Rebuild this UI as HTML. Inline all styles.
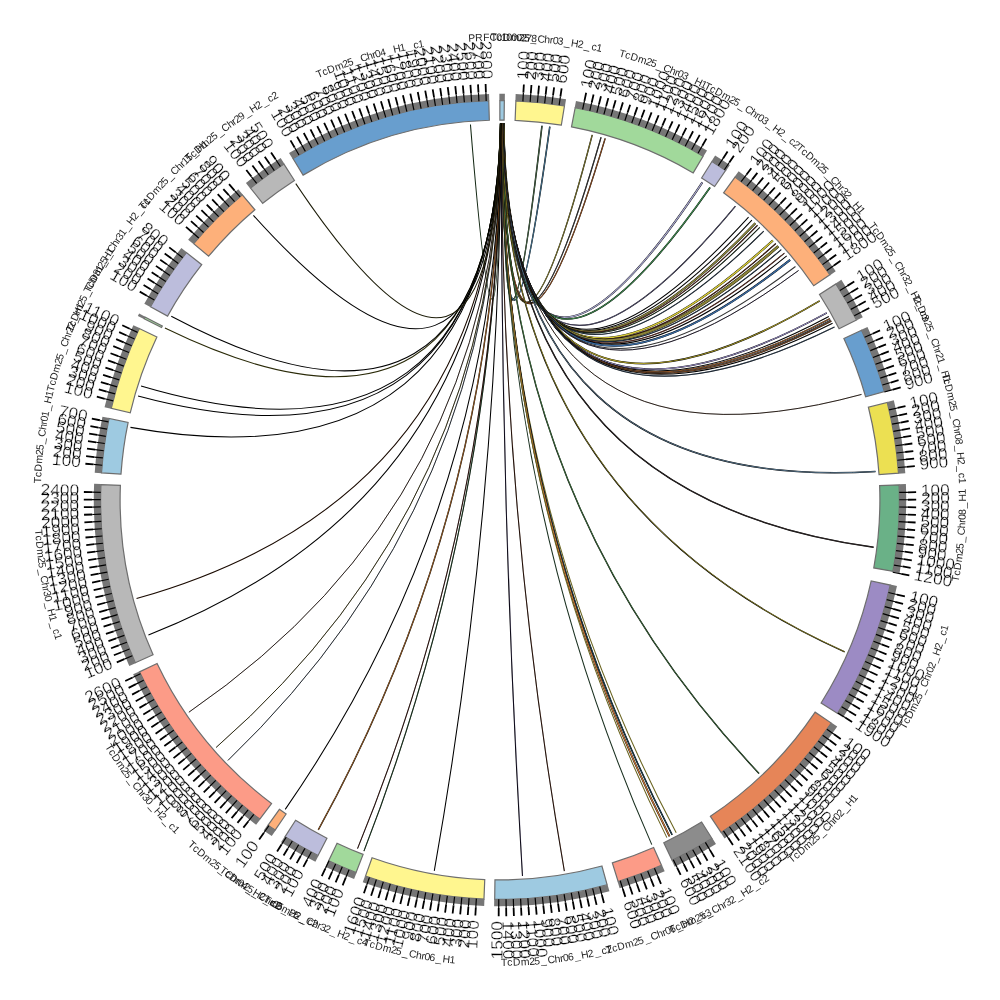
<!DOCTYPE html>
<html lang="en">
<head>
<meta charset="utf-8">
<title>Circos plot</title>
<style>html,body{margin:0;padding:0;background:#fff;overflow:hidden}svg{display:block}.lb text{mix-blend-mode:multiply}</style>
</head>
<body>
<svg width="1000" height="1000" viewBox="0 0 1000 1000">
<rect width="1000" height="1000" fill="#fff"/>
<g fill="none">
<path d="M500.26 123.4Q499.03 475.09 470.45 124.56" stroke="#142814" stroke-width="1.05"/>
<path d="M504.08 123.42Q501.52 475.16 541.98 125.75" stroke="#000" stroke-width="1.55"/>
<path d="M504.08 123.42Q501.52 475.16 541.98 125.75" stroke="#4a6b4a" stroke-width="0.9"/>
<path d="M504.01 123.42Q501.78 475.23 549.81 126.71" stroke="#000" stroke-width="1.55"/>
<path d="M504.01 123.42Q501.78 475.23 549.81 126.71" stroke="#4a7a9a" stroke-width="0.9"/>
<path d="M503.95 123.42Q503.14 475.81 592.26 134.87" stroke="#000" stroke-width="1.4"/>
<path d="M503.95 123.42Q503.14 475.81 592.26 134.87" stroke="#9a9238" stroke-width="0.75"/>
<path d="M503.88 123.42Q503.41 475.98 601.09 137.22" stroke="#000" stroke-width="1.25"/>
<path d="M503.88 123.42Q503.41 475.98 601.09 137.22" stroke="#555555" stroke-width="0.6"/>
<path d="M503.82 123.42Q503.53 476.06 605.19 138.39" stroke="#000" stroke-width="1.4"/>
<path d="M503.82 123.42Q503.53 476.06 605.19 138.39" stroke="#b0602a" stroke-width="0.75"/>
<path d="M503.76 123.42Q506.2 479.12 702.35 182.38" stroke="#000" stroke-width="1.85"/>
<path d="M503.76 123.42Q506.2 479.12 702.35 182.38" stroke="#a9a8d0" stroke-width="1.2"/>
<path d="M503.69 123.42Q506.37 479.45 710.05 187.42" stroke="#000" stroke-width="1.7"/>
<path d="M503.69 123.42Q506.37 479.45 710.05 187.42" stroke="#3f8a4f" stroke-width="1.05"/>
<path d="M503.63 123.42Q506.89 480.68 735.47 206.09" stroke="#000" stroke-width="1.25"/>
<path d="M503.63 123.42Q506.89 480.68 735.47 206.09" stroke="#7a76a8" stroke-width="0.6"/>
<path d="M503.57 123.42Q507.12 481.38 748.56 217.07" stroke="#000" stroke-width="1.05"/>
<path d="M503.5 123.42Q507.17 481.56 751.9 220.04" stroke="#000" stroke-width="1.05"/>
<path d="M503.44 123.42Q507.22 481.76 755.3 223.14" stroke="#000" stroke-width="2.15"/>
<path d="M503.44 123.42Q507.22 481.76 755.3 223.14" stroke="#8a8440" stroke-width="1.5"/>
<path d="M503.38 123.42Q507.25 481.89 757.56 225.25" stroke="#000" stroke-width="1.1"/>
<path d="M503.38 123.42Q507.25 481.89 757.56 225.25" stroke="#9a4030" stroke-width="0.45"/>
<path d="M503.31 123.41Q507.29 482.02 759.81 227.37" stroke="#000" stroke-width="1.02"/>
<path d="M503.31 123.41Q507.29 482.02 759.81 227.37" stroke="#2d5a2d" stroke-width="0.38"/>
<path d="M503.25 123.41Q507.34 482.26 763.77 231.21" stroke="#000" stroke-width="1.1"/>
<path d="M503.25 123.41Q507.34 482.26 763.77 231.21" stroke="#4a6a8a" stroke-width="0.45"/>
<path d="M503.19 123.41Q507.45 482.83 772.86 240.43" stroke="#000" stroke-width="2.15"/>
<path d="M503.19 123.41Q507.45 482.83 772.86 240.43" stroke="#d8cc3a" stroke-width="1.5"/>
<path d="M503.12 123.41Q507.48 483.02 775.83 243.59" stroke="#000" stroke-width="1.25"/>
<path d="M503.12 123.41Q507.48 483.02 775.83 243.59" stroke="#7a3020" stroke-width="0.6"/>
<path d="M503.06 123.41Q507.51 483.18 778.28 246.25" stroke="#000" stroke-width="2.9"/>
<path d="M503.06 123.41Q507.51 483.18 778.28 246.25" stroke="#8a8238" stroke-width="2.25"/>
<path d="M503 123.41Q507.54 483.38 781.27 249.57" stroke="#000" stroke-width="1.17"/>
<path d="M503 123.41Q507.54 483.38 781.27 249.57" stroke="#3a5a80" stroke-width="0.52"/>
<path d="M502.93 123.41Q507.56 483.59 784.4 253.13" stroke="#000" stroke-width="1.17"/>
<path d="M502.93 123.41Q507.56 483.59 784.4 253.13" stroke="#a04a38" stroke-width="0.52"/>
<path d="M502.87 123.41Q507.58 483.75 786.71 255.82" stroke="#000" stroke-width="1.05"/>
<path d="M502.8 123.41Q507.61 483.99 790.13 259.9" stroke="#000" stroke-width="2"/>
<path d="M502.8 123.41Q507.61 483.99 790.13 259.9" stroke="#3a6aa0" stroke-width="1.35"/>
<path d="M502.74 123.41Q507.64 484.37 795.47 266.49" stroke="#333" stroke-width="1.05"/>
<path d="M502.68 123.41Q507.65 484.6 798.58 270.48" stroke="#000" stroke-width="0.95"/>
<path d="M502.68 123.41Q507.65 484.6 798.58 270.48" stroke="#4a3a6a" stroke-width="0.3"/>
<path d="M502.61 123.41Q507.68 486.28 819.65 300.88" stroke="#000" stroke-width="1.7"/>
<path d="M502.61 123.41Q507.68 486.28 819.65 300.88" stroke="#a89a28" stroke-width="1.05"/>
<path d="M502.55 123.41Q507.65 486.91 826.8 312.84" stroke="#000" stroke-width="1.62"/>
<path d="M502.55 123.41Q507.65 486.91 826.8 312.84" stroke="#9a8fc8" stroke-width="0.98"/>
<path d="M502.49 123.41Q507.63 487.1 828.84 316.44" stroke="#000" stroke-width="1.05"/>
<path d="M502.42 123.41Q507.62 487.21 830.02 318.57" stroke="#000" stroke-width="1.4"/>
<path d="M502.42 123.41Q507.62 487.21 830.02 318.57" stroke="#c87838" stroke-width="0.75"/>
<path d="M502.36 123.41Q507.61 487.28 830.81 320.01" stroke="#333" stroke-width="1.05"/>
<path d="M502.3 123.41Q507.6 487.34 831.43 321.17" stroke="#000" stroke-width="1.25"/>
<path d="M502.3 123.41Q507.6 487.34 831.43 321.17" stroke="#b86a30" stroke-width="0.6"/>
<path d="M502.23 123.41Q507.59 487.46 832.58 323.31" stroke="#000" stroke-width="1.05"/>
<path d="M502.17 123.41Q507.57 487.64 834.5 326.98" stroke="#000" stroke-width="1.1"/>
<path d="M502.17 123.41Q507.57 487.64 834.5 326.98" stroke="#4a6a8a" stroke-width="0.45"/>
<path d="M502.11 123.41Q506.95 490.79 861.5 394.43" stroke="#000" stroke-width="0.88"/>
<path d="M502.11 123.41Q506.95 490.79 861.5 394.43" stroke="#5a2a10" stroke-width="0.22"/>
<path d="M502.04 123.41Q505.81 493.77 875.52 471.5" stroke="#000" stroke-width="1.55"/>
<path d="M502.04 123.41Q505.81 493.77 875.52 471.5" stroke="#5a7890" stroke-width="0.9"/>
<path d="M501.98 123.41Q504.47 496.08 873.63 547.2" stroke="#000" stroke-width="1.4"/>
<path d="M501.98 123.41Q504.47 496.08 873.63 547.2" stroke="#3a3030" stroke-width="0.75"/>
<path d="M501.91 123.4Q502.56 498.34 844.65 651.79" stroke="#000" stroke-width="1.4"/>
<path d="M501.91 123.4Q502.56 498.34 844.65 651.79" stroke="#9a9028" stroke-width="0.75"/>
<path d="M501.85 123.4Q500.73 499.71 759 773.4" stroke="#000" stroke-width="1.4"/>
<path d="M501.85 123.4Q500.73 499.71 759 773.4" stroke="#4a8a4a" stroke-width="0.75"/>
<path d="M501.79 123.4Q500.17 499.96 676.22 832.83" stroke="#6a6420" stroke-width="1.05"/>
<path d="M501.72 123.4Q500.16 499.96 672.14 834.95" stroke="#000" stroke-width="1.55"/>
<path d="M501.72 123.4Q500.16 499.96 672.14 834.95" stroke="#1f4a5a" stroke-width="0.9"/>
<path d="M501.66 123.4Q500.15 499.96 669.51 836.3" stroke="#000" stroke-width="1.85"/>
<path d="M501.66 123.4Q500.15 499.96 669.51 836.3" stroke="#c87838" stroke-width="1.2"/>
<path d="M501.6 123.4Q500.14 499.97 666.86 837.62" stroke="#6a6420" stroke-width="1.05"/>
<path d="M501.53 123.4Q500.1 499.98 651.79 844.65" stroke="#1a3020" stroke-width="1.05"/>
<path d="M501.47 123.4Q500 500 564.36 871.06" stroke="#000" stroke-width="1.02"/>
<path d="M501.47 123.4Q500 500 564.36 871.06" stroke="#6a3018" stroke-width="0.38"/>
<path d="M501.41 123.4Q500 500 522.47 875.93" stroke="#000" stroke-width="1.02"/>
<path d="M501.41 123.4Q500 500 522.47 875.93" stroke="#2a2050" stroke-width="0.38"/>
<path d="M501.34 123.4Q500 500 434.28 870.82" stroke="#000" stroke-width="1.05"/>
<path d="M501.28 123.4Q499.94 499.99 363.93 851.16" stroke="#000" stroke-width="1.1"/>
<path d="M501.28 123.4Q499.94 499.99 363.93 851.16" stroke="#2f6a3a" stroke-width="0.45"/>
<path d="M501.22 123.4Q499.93 499.99 357.52 848.61" stroke="#000" stroke-width="1.02"/>
<path d="M501.22 123.4Q499.93 499.99 357.52 848.61" stroke="#6a2a20" stroke-width="0.38"/>
<path d="M501.15 123.4Q499.82 499.95 318.28 829.86" stroke="#000" stroke-width="1.4"/>
<path d="M501.15 123.4Q499.82 499.95 318.28 829.86" stroke="#b8702c" stroke-width="0.75"/>
<path d="M501.09 123.4Q499.66 499.89 285.23 809.36" stroke="#000" stroke-width="1.05"/>
<path d="M501.03 123.4Q499.14 499.63 227.96 760.42" stroke="#000" stroke-width="0.88"/>
<path d="M501.03 123.4Q499.14 499.63 227.96 760.42" stroke="#3a5a78" stroke-width="0.22"/>
<path d="M500.96 123.4Q498.97 499.53 216.12 747.47" stroke="#000" stroke-width="0.95"/>
<path d="M500.96 123.4Q498.97 499.53 216.12 747.47" stroke="#8a8030" stroke-width="0.3"/>
<path d="M500.9 123.4Q498.47 499.19 188.89 712.22" stroke="#000" stroke-width="0.88"/>
<path d="M500.9 123.4Q498.47 499.19 188.89 712.22" stroke="#5a2a18" stroke-width="0.22"/>
<path d="M500.83 123.4Q497.2 498.07 148.44 635.02" stroke="#000" stroke-width="1.05"/>
<path d="M500.77 123.4Q496.55 497.35 136.54 598.61" stroke="#1a0a00" stroke-width="1.05"/>
<path d="M500.71 123.4Q493.6 492.2 130.47 427.37" stroke="#000" stroke-width="1.05"/>
<path d="M500.64 123.4Q493.17 490.92 138.03 396.07" stroke="#000" stroke-width="1.05"/>
<path d="M500.58 123.4Q493.05 490.49 141.05 386.06" stroke="#000" stroke-width="1.05"/>
<path d="M500.52 123.4Q492.54 487.77 164.93 328.09" stroke="#2a2a08" stroke-width="1.05"/>
<path d="M500.45 123.4Q492.48 487.16 171.26 316.27" stroke="#000" stroke-width="1.05"/>
<path d="M500.39 123.4Q493.06 481.36 253.42 215.35" stroke="#000" stroke-width="1.05"/>
<path d="M500.33 123.4Q493.9 479.28 295.77 183.59" stroke="#1c1c08" stroke-width="1.05"/>
</g>
<g stroke="#6e6e6e" stroke-width="1.2">
<path d="M499.86 100.6A399.4 399.4 0 0 1 504.32 100.62L504.11 120.12A379.9 379.9 0 0 0 499.87 120.1Z" fill="#9ecae1"/>
<path d="M515.89 100.92A399.4 399.4 0 0 1 564.48 105.84L561.33 125.08A379.9 379.9 0 0 0 515.11 120.4Z" fill="#fff68f"/>
<path d="M575.18 107.74A399.4 399.4 0 0 1 703.13 156.11L693.21 172.9A379.9 379.9 0 0 0 571.51 126.89Z" fill="#a1d99b"/>
<path d="M711.95 161.47A399.4 399.4 0 0 1 725.65 170.45L714.63 186.54A379.9 379.9 0 0 0 701.6 178Z" fill="#bcbddc"/>
<path d="M735.04 177.08A399.4 399.4 0 0 1 829.83 274.75L813.72 285.75A379.9 379.9 0 0 0 723.57 192.85Z" fill="#fdb07a"/>
<path d="M835.91 283.93A399.4 399.4 0 0 1 856.5 319.92L839.09 328.71A379.9 379.9 0 0 0 819.51 294.48Z" fill="#b8b8b8"/>
<path d="M861.54 330.26A399.4 399.4 0 0 1 884.4 391.59L865.64 396.88A379.9 379.9 0 0 0 843.88 338.55Z" fill="#689ece"/>
<path d="M887.32 402.5A399.4 399.4 0 0 1 898.5 473.18L879.04 474.49A379.9 379.9 0 0 0 868.41 407.26Z" fill="#ece052"/>
<path d="M899.11 484.81A399.4 399.4 0 0 1 892.96 571.41L873.78 567.93A379.9 379.9 0 0 0 879.63 485.55Z" fill="#6ab187"/>
<path d="M890.23 585.08A399.4 399.4 0 0 1 837.6 713.42L821.11 703A379.9 379.9 0 0 0 871.18 580.93Z" fill="#9c8bc4"/>
<path d="M831.31 723.05A399.4 399.4 0 0 1 721.2 832.55L710.4 816.32A379.9 379.9 0 0 0 815.14 712.16Z" fill="#e68558"/>
<path d="M711.95 838.53A399.4 399.4 0 0 1 672.2 860.37L663.79 842.78A379.9 379.9 0 0 0 701.6 822Z" fill="#8c8c8c"/>
<path d="M661.49 865.29A399.4 399.4 0 0 1 618.11 881.54L612.34 862.91A379.9 379.9 0 0 0 653.61 847.46Z" fill="#fc9b87"/>
<path d="M607.14 884.76A399.4 399.4 0 0 1 494.7 899.36L494.96 879.87A379.9 379.9 0 0 0 601.91 865.98Z" fill="#9ecae1"/>
<path d="M483.97 899.08A399.4 399.4 0 0 1 365.5 876.07L372.06 857.71A379.9 379.9 0 0 0 484.75 879.59Z" fill="#fff68f"/>
<path d="M356.09 872.57A399.4 399.4 0 0 1 328.68 860.79L337.05 843.18A379.9 379.9 0 0 0 363.11 854.38Z" fill="#a1d99b"/>
<path d="M318.06 855.55A399.4 399.4 0 0 1 285.11 836.66L295.6 820.23A379.9 379.9 0 0 0 326.94 838.19Z" fill="#bcbddc"/>
<path d="M275.16 830.1A399.4 399.4 0 0 1 268.07 825.16L279.39 809.28A379.9 379.9 0 0 0 286.14 813.98Z" fill="#fdb07a"/>
<path d="M259.8 819.1A399.4 399.4 0 0 1 139.48 671.88L157.08 663.49A379.9 379.9 0 0 0 271.53 803.52Z" fill="#fc9b87"/>
<path d="M135.27 662.77A399.4 399.4 0 0 1 100.9 484.53L120.39 485.28A379.9 379.9 0 0 0 153.08 654.82Z" fill="#b8b8b8"/>
<path d="M101.52 472.83A399.4 399.4 0 0 1 109 418.53L128.09 422.51A379.9 379.9 0 0 0 120.98 474.16Z" fill="#9ecae1"/>
<path d="M111.26 408.32A399.4 399.4 0 0 1 139.27 328.56L156.88 336.93A379.9 379.9 0 0 0 130.24 412.8Z" fill="#fff68f"/>
<path d="M144.13 318.68A399.4 399.4 0 0 1 144.96 317.06L162.29 325.99A379.9 379.9 0 0 0 161.51 327.53Z" fill="#a1d99b"/>
<path d="M150.51 306.67A399.4 399.4 0 0 1 186.43 252.62L201.74 264.7A379.9 379.9 0 0 0 167.57 316.11Z" fill="#bcbddc"/>
<path d="M193.68 243.7A399.4 399.4 0 0 1 242.31 194.85L254.89 209.75A379.9 379.9 0 0 0 208.64 256.21Z" fill="#fdb07a"/>
<path d="M250.55 188.08A399.4 399.4 0 0 1 283.93 164.09L294.48 180.49A379.9 379.9 0 0 0 262.73 203.31Z" fill="#b8b8b8"/>
<path d="M292.98 158.44A399.4 399.4 0 0 1 488.78 100.76L489.33 120.25A379.9 379.9 0 0 0 303.09 175.12Z" fill="#689ece"/>
</g>
<g fill="#767676">
<path d="M499.36 93.8A406.2 406.2 0 0 1 504.89 93.83L504.81 100.63A399.4 399.4 0 0 0 499.37 100.6Z"/>
<path d="M515.66 94.1A406.2 406.2 0 0 1 566.06 99.21L564.96 105.92A399.4 399.4 0 0 0 515.4 100.9Z"/>
<path d="M575.98 100.97A406.2 406.2 0 0 1 707.02 150.51L703.55 156.36A399.4 399.4 0 0 0 574.7 107.65Z"/>
<path d="M715.13 155.45A406.2 406.2 0 0 1 729.9 165.12L726.05 170.73A399.4 399.4 0 0 0 711.53 161.22Z"/>
<path d="M738.64 171.29A406.2 406.2 0 0 1 835.72 271.33L830.1 275.16A399.4 399.4 0 0 0 734.65 176.8Z"/>
<path d="M841.36 279.84A406.2 406.2 0 0 1 862.79 317.3L856.72 320.36A399.4 399.4 0 0 0 835.65 283.52Z"/>
<path d="M867.48 326.92A406.2 406.2 0 0 1 891.08 390.22L884.54 392.06A399.4 399.4 0 0 0 861.33 329.82Z"/>
<path d="M893.79 400.36A406.2 406.2 0 0 1 905.32 473.22L898.53 473.67A399.4 399.4 0 0 0 887.2 402.02Z"/>
<path d="M905.89 484.05A406.2 406.2 0 0 1 899.57 573.12L892.88 571.89A399.4 399.4 0 0 0 899.09 484.32Z"/>
<path d="M896.98 586.05A406.2 406.2 0 0 1 843.08 717.47L837.34 713.83A399.4 399.4 0 0 0 890.34 584.61Z"/>
<path d="M837.23 726.44A406.2 406.2 0 0 1 724.55 838.49L720.79 832.82A399.4 399.4 0 0 0 831.58 722.65Z"/>
<path d="M715.97 844.03A406.2 406.2 0 0 1 674.68 866.72L671.76 860.58A399.4 399.4 0 0 0 712.36 838.27Z"/>
<path d="M664.7 871.31A406.2 406.2 0 0 1 619.64 888.18L617.64 881.68A399.4 399.4 0 0 0 661.94 865.1Z"/>
<path d="M609.44 891.18A406.2 406.2 0 0 1 494.12 906.16L494.21 899.36A399.4 399.4 0 0 0 607.61 884.63Z"/>
<path d="M484.19 905.89A406.2 406.2 0 0 1 362.74 882.31L365.04 875.91A399.4 399.4 0 0 0 484.46 899.1Z"/>
<path d="M354.1 879.09A406.2 406.2 0 0 1 325.32 866.72L328.24 860.58A399.4 399.4 0 0 0 356.54 872.75Z"/>
<path d="M315.4 861.83A406.2 406.2 0 0 1 281.03 842.13L284.7 836.4A399.4 399.4 0 0 0 318.49 855.77Z"/>
<path d="M271.74 836A406.2 406.2 0 0 1 263.71 830.41L267.67 824.87A399.4 399.4 0 0 0 275.56 830.38Z"/>
<path d="M256.11 824.83A406.2 406.2 0 0 1 133.13 674.36L139.27 671.44A399.4 399.4 0 0 0 260.19 819.39Z"/>
<path d="M129.26 665.99A406.2 406.2 0 0 1 94.12 483.77L100.92 484.04A399.4 399.4 0 0 0 135.47 663.21Z"/>
<path d="M94.71 472.87A406.2 406.2 0 0 1 102.44 416.66L109.1 418.05A399.4 399.4 0 0 0 101.49 473.32Z"/>
<path d="M104.53 407.24A406.2 406.2 0 0 1 133.34 325.19L139.48 328.12A399.4 399.4 0 0 0 111.15 408.8Z"/>
<path d="M137.85 316.03A406.2 406.2 0 0 1 139.14 313.51L145.18 316.63A399.4 399.4 0 0 0 143.91 319.11Z"/>
<path d="M144.32 303.81A406.2 406.2 0 0 1 181.4 248.02L186.73 252.24A399.4 399.4 0 0 0 150.27 307.1Z"/>
<path d="M188.15 239.72A406.2 406.2 0 0 1 238.3 189.33L242.68 194.54A399.4 399.4 0 0 0 193.37 244.07Z"/>
<path d="M245.92 183.08A406.2 406.2 0 0 1 280.67 158.1L284.35 163.83A399.4 399.4 0 0 0 250.17 188.38Z"/>
<path d="M289.03 152.88A406.2 406.2 0 0 1 489.08 93.95L489.27 100.74A399.4 399.4 0 0 0 292.56 158.69Z"/>
</g>
<path d="M522.89 101.36L523.39 92.67M530.16 101.84L530.82 93.17M537.42 102.46L538.24 93.8M544.68 103.21L545.65 94.56M551.91 104.09L553.04 95.46M559.13 105.1L560.42 96.5M582.65 109.35L584.45 100.84M589.77 110.92L591.72 102.44M596.86 112.63L598.97 104.18M603.91 114.46L606.18 106.06M610.93 116.42L613.35 108.06M617.92 118.51L620.49 110.2M624.86 120.72L627.58 112.46M631.76 123.07L634.63 114.85M638.62 125.53L641.64 117.38M645.44 128.13L648.6 120.03M652.2 130.84L655.52 122.8M658.91 133.68L662.38 125.7M665.57 136.65L669.18 128.73M672.18 139.73L675.93 131.88M678.73 142.93L682.62 135.15M685.22 146.26L689.25 138.55M691.64 149.7L695.82 142.06M698.01 153.25L702.32 145.7M718.33 165.67L723.08 158.39M724.39 169.72L729.28 162.52M741.12 181.72L746.37 174.78M746.89 186.17L752.27 179.34M752.57 190.73L758.08 183.99M758.18 195.39L763.8 188.76M763.7 200.16L769.44 193.63M769.13 205.02L774.99 198.6M774.47 209.98L780.45 203.67M779.71 215.04L785.81 208.83M784.87 220.2L791.08 214.1M789.93 225.44L796.25 219.46M794.89 230.78L801.32 224.92M799.76 236.21L806.29 230.46M804.52 241.73L811.16 236.1M809.19 247.33L815.93 241.82M813.75 253.01L820.59 247.63M818.21 258.78L825.14 253.53M822.56 264.63L829.58 259.5M826.8 270.56L833.92 265.56M839.9 290.45L847.3 285.89M843.67 296.69L851.15 292.26M847.32 303L854.89 298.71M850.86 309.37L858.5 305.22M854.28 315.81L862 311.8M864.63 337.25L872.57 333.7M867.54 343.93L875.54 340.53M870.32 350.67L878.39 347.41M872.99 357.45L881.11 354.34M875.53 364.28L883.71 361.33M877.94 371.16L886.18 368.35M880.23 378.08L888.52 375.43M882.39 385.04L890.73 382.54M884.43 392.04L892.81 389.69M889.01 409.95L897.49 407.98M890.59 417.06L899.1 415.26M892.04 424.21L900.58 422.56M893.36 431.38L901.93 429.88M894.55 438.57L903.14 437.23M895.6 445.78L904.22 444.6M896.53 453.01L905.17 451.99M897.32 460.26L905.97 459.39M897.98 467.52L906.65 466.81M899.23 492.45L907.93 492.28M899.3 499.74L908 499.73M899.24 507.02L907.94 507.18M899.04 514.31L907.74 514.62M898.72 521.59L907.4 522.06M898.26 528.87L906.93 529.5M897.66 536.13L906.33 536.92M896.94 543.39L905.58 544.33M896.08 550.63L904.71 551.73M895.09 557.85L903.7 559.11M893.97 565.05L902.55 566.47M892.71 572.23L901.27 573.81M888.44 592.51L896.9 594.53M886.68 599.59L895.11 601.76M884.8 606.63L893.18 608.95M882.79 613.63L891.13 616.11M880.65 620.6L888.94 623.23M878.39 627.53L886.63 630.31M875.99 634.42L884.19 637.35M873.48 641.26L881.62 644.34M870.84 648.05L878.92 651.28M868.07 654.8L876.09 658.17M865.19 661.49L873.14 665.01M862.18 668.13L870.07 671.8M859.05 674.72L866.87 678.52M855.8 681.24L863.55 685.19M852.43 687.71L860.11 691.8M848.94 694.11L856.55 698.34M845.34 700.45L852.87 704.81M841.63 706.72L849.07 711.22M837.8 712.92L845.16 717.56M826.9 729.29L834.03 734.29M822.66 735.22L829.69 740.35M818.32 741.07L825.25 746.32M813.86 746.84L820.7 752.22M809.3 752.53L816.04 758.03M804.64 758.14L811.28 763.76M799.88 763.65L806.41 769.4M795.02 769.08L801.44 774.95M790.05 774.42L796.37 780.4M785 779.67L791.21 785.77M779.84 784.83L785.94 791.04M774.6 789.89L780.58 796.21M769.26 794.86L775.13 801.28M763.83 799.72L769.58 806.25M758.32 804.49L763.94 811.12M752.71 809.15L758.22 815.89M747.03 813.72L752.41 820.55M741.26 818.17L746.52 825.1M735.41 822.52L740.54 829.55M729.49 826.77L734.49 833.89M723.48 830.9L728.35 838.11M705.38 842.43L709.85 849.89M699.09 846.12L703.43 853.67M692.74 849.7L696.94 857.32M686.33 853.16L690.39 860.86M679.85 856.5L683.77 864.27M673.31 859.73L677.09 867.57M654.44 868.22L657.8 876.25M647.69 870.98L650.91 879.07M640.89 873.62L643.96 881.76M634.05 876.13L636.97 884.32M627.16 878.51L629.93 886.76M620.23 880.77L622.85 889.07M599.73 886.64L601.91 895.07M592.66 888.4L594.68 896.86M585.55 890.03L587.42 898.53M578.42 891.52L580.13 900.05M571.26 892.89L572.81 901.45M564.07 894.13L565.47 902.71M556.87 895.23L558.11 903.84M549.64 896.2L550.73 904.83M542.4 897.04L543.33 905.69M535.15 897.75L535.91 906.42M527.88 898.33L528.49 907M520.61 898.77L521.05 907.46M513.32 899.08L513.61 907.77M506.04 899.25L506.17 907.95M498.75 899.3L498.72 908M476.35 898.6L475.83 907.28M469.07 898.1L468.4 906.77M461.81 897.47L460.98 906.13M454.56 896.71L453.57 905.35M447.33 895.81L446.18 904.43M440.11 894.78L438.81 903.38M432.91 893.62L431.45 902.2M425.74 892.33L424.12 900.88M418.59 890.91L416.82 899.43M411.47 889.36L409.54 897.85M404.37 887.68L402.29 896.13M397.31 885.87L395.08 894.28M390.29 883.93L387.9 892.3M383.3 881.86L380.75 890.18M376.34 879.67L373.65 887.94M369.43 877.35L366.59 885.57M349.02 869.66L345.74 877.71M342.3 866.84L338.87 874.83M335.63 863.9L332.05 871.83M329.02 860.84L325.29 868.7M311.34 851.92L307.22 859.59M304.94 848.41L300.69 856.01M298.61 844.8L294.23 852.31M292.35 841.06L287.83 848.49M286.16 837.21L281.5 844.56M268.94 825.66L263.91 832.75M253.8 814.37L248.44 821.22M248.11 809.82L242.62 816.57M242.49 805.17L236.88 811.82M236.96 800.42L231.23 806.97M231.52 795.57L225.67 802.01M226.17 790.62L220.21 796.95M220.91 785.57L214.83 791.79M215.75 780.43L209.55 786.54M210.67 775.19L204.37 781.19M205.7 769.87L199.29 775.75M200.82 764.45L194.3 770.21M196.04 758.94L189.42 764.58M191.37 753.35L184.64 758.87M186.79 747.67L179.97 753.07M182.33 741.92L175.4 747.19M177.96 736.08L170.95 741.22M173.71 730.16L166.6 735.17M169.56 724.16L162.36 729.05M165.52 718.09L158.23 722.85M161.6 711.95L154.22 716.57M157.78 705.74L150.33 710.22M154.08 699.46L146.55 703.8M150.5 693.11L142.89 697.32M147.03 686.7L139.34 690.76M143.68 680.22L135.92 684.15M140.45 673.69L132.62 677.47M132.32 655.72L124.31 659.12M129.54 648.99L121.46 652.23M126.88 642.2L118.75 645.3M124.34 635.36L116.16 638.31M121.94 628.48L113.7 631.28M119.65 621.56L111.37 624.21M117.5 614.6L109.16 617.09M115.47 607.59L107.09 609.94M113.57 600.56L105.15 602.75M111.8 593.49L103.34 595.52M110.16 586.38L101.66 588.27M108.64 579.25L100.12 580.98M107.26 572.1L98.71 573.67M106.01 564.91L97.43 566.33M104.89 557.71L96.28 558.97M103.9 550.49L95.27 551.59M103.05 543.25L94.4 544.19M102.33 536L93.66 536.78M101.73 528.73L93.06 529.36M101.28 521.45L92.59 521.92M100.95 514.17L92.26 514.48M100.76 506.89L92.06 507.04M100.7 499.6L92 499.59M100.77 492.31L92.08 492.14M102.22 465.23L93.55 464.47M102.92 457.97L94.27 457.05M103.75 450.73L95.12 449.66M104.72 443.5L96.1 442.27M105.81 436.3L97.23 434.91M107.04 429.11L98.48 427.57M108.4 421.95L99.87 420.25M113.19 400.93L104.76 398.77M115.06 393.88L106.67 391.57M117.06 386.87L108.72 384.41M119.19 379.9L110.89 377.28M121.45 372.97L113.2 370.2M123.83 366.08L115.63 363.16M126.33 359.24L118.19 356.17M128.97 352.44L120.88 349.22M131.72 345.69L123.7 342.33M134.6 338.99L126.64 335.48M137.6 332.35L129.7 328.7M154.36 300.07L146.83 295.72M158.06 293.8L150.61 289.3M161.89 287.59L154.52 282.96M165.82 281.45L158.54 276.69M169.86 275.39L162.67 270.49M174.02 269.4L166.92 264.37M178.28 263.49L171.27 258.33M182.65 257.65L175.74 252.37M198.72 237.95L192.15 232.24M203.55 232.5L197.09 226.67M208.48 227.13L202.13 221.18M213.51 221.85L207.27 215.79M218.64 216.67L212.51 210.5M223.86 211.58L217.84 205.3M229.17 206.59L223.27 200.19M234.57 201.69L228.79 195.19M240.06 196.9L234.4 190.29M256.62 183.44L251.32 176.55M262.44 179.05L257.27 172.06M268.34 174.77L263.29 167.68M274.32 170.6L269.4 163.42M280.37 166.53L275.58 159.26M299 154.98L294.62 147.46M305.33 151.37L301.09 143.77M311.73 147.87L307.63 140.2M318.19 144.49L314.23 136.75M324.71 141.23L320.89 133.42M331.29 138.09L327.61 130.21M337.92 135.07L334.39 127.12M344.61 132.18L341.22 124.16M351.35 129.4L348.11 121.33M358.14 126.75L355.05 118.62M364.98 124.22L362.04 116.03M371.86 121.82L369.07 113.58M378.79 119.54L376.14 111.25M385.75 117.39L383.26 109.06M392.75 115.37L390.42 106.99M399.79 113.48L397.61 105.06M406.87 111.71L404.84 103.25M413.97 110.08L412.1 101.58M421.1 108.57L419.38 100.04M428.26 107.2L426.7 98.64M435.44 105.95L434.04 97.37M442.65 104.84L441.4 96.23M449.87 103.86L448.78 95.23M457.11 103.01L456.18 94.36M464.37 102.29L463.59 93.63M471.63 101.71L471.01 93.03M478.91 101.26L478.45 92.57M486.19 100.94L485.89 92.24" stroke="#000" stroke-width="1.2" fill="none"/>
<path d="M523.39 92.67L523.86 84.48M530.82 93.17L531.44 84.99M538.24 93.8L539.01 85.63M545.65 94.56L546.57 86.41M553.04 95.46L554.11 87.33M560.42 96.5L561.63 88.39M584.45 100.84L586.15 92.81M591.72 102.44L593.57 94.45M598.97 104.18L600.96 96.23M606.18 106.06L608.31 98.14M613.35 108.06L615.63 100.18M620.49 110.2L622.91 102.36M627.58 112.46L630.15 104.67M634.63 114.85L637.34 107.11M641.64 117.38L644.49 109.69M648.6 120.03L651.59 112.39M655.52 122.8L658.64 115.22M662.38 125.7L665.64 118.18M669.18 128.73L672.58 121.27M675.93 131.88L679.47 124.48M682.62 135.15L686.29 127.82M689.25 138.55L693.06 131.28M695.82 142.06L699.75 134.87M702.32 145.7L706.39 138.58M723.08 158.39L727.57 151.52M729.28 162.52L733.89 155.74M746.37 174.78L751.32 168.25M752.27 179.34L757.34 172.89M758.08 183.99L763.26 177.64M763.8 188.76L769.11 182.5M769.44 193.63L774.86 187.47M774.99 198.6L780.52 192.54M780.45 203.67L786.08 197.71M785.81 208.83L791.55 202.98M791.08 214.1L796.93 208.35M796.25 219.46L802.2 213.82M801.32 224.92L807.37 219.39M806.29 230.46L812.45 225.05M811.16 236.1L817.41 230.8M815.93 241.82L822.27 236.63M820.59 247.63L827.03 242.56M825.14 253.53L831.67 248.57M829.58 259.5L836.21 254.67M833.92 265.56L840.63 260.85M847.3 285.89L854.28 281.58M851.15 292.26L858.21 288.09M854.89 298.71L862.02 294.66M858.5 305.22L865.71 301.3M862 311.8L869.27 308.01M872.57 333.7L880.06 330.36M875.54 340.53L883.09 337.32M878.39 347.41L886 344.34M881.11 354.34L888.77 351.42M883.71 361.33L891.42 358.54M886.18 368.35L893.94 365.71M888.52 375.43L896.33 372.92M890.73 382.54L898.58 380.18M892.81 389.69L900.7 387.47M897.49 407.98L905.48 406.13M899.1 415.26L907.12 413.55M900.58 422.56L908.63 421M901.93 429.88L910.01 428.47M903.14 437.23L911.24 435.97M904.22 444.6L912.35 443.49M905.17 451.99L913.31 451.02M905.97 459.39L914.13 458.58M906.65 466.81L914.82 466.14M907.93 492.28L916.13 492.13M908 499.73L916.2 499.72M907.94 507.18L916.14 507.32M907.74 514.62L915.93 514.92M907.4 522.06L915.59 522.51M906.93 529.5L915.11 530.09M906.33 536.92L914.49 537.66M905.58 544.33L913.74 545.22M904.71 551.73L912.84 552.77M903.7 559.11L911.81 560.3M902.55 566.47L910.64 567.8M901.27 573.81L909.33 575.29M896.9 594.53L904.88 596.43M895.11 601.76L903.05 603.8M893.18 608.95L901.09 611.14M891.13 616.11L898.99 618.44M888.94 623.23L896.76 625.71M886.63 630.31L894.4 632.93M884.19 637.35L891.91 640.11M881.62 644.34L889.29 647.24M878.92 651.28L886.53 654.32M876.09 658.17L883.65 661.35M873.14 665.01L880.64 668.33M870.07 671.8L877.51 675.25M866.87 678.52L874.24 682.11M863.55 685.19L870.86 688.91M860.11 691.8L867.35 695.65M856.55 698.34L863.71 702.32M852.87 704.81L859.96 708.93M849.07 711.22L856.09 715.47M845.16 717.56L852.09 721.93M834.03 734.29L840.74 739M829.69 740.35L836.32 745.18M825.25 746.32L831.79 751.28M820.7 752.22L827.15 757.29M816.04 758.03L822.39 763.22M811.28 763.76L817.54 769.06M806.41 769.4L812.57 774.81M801.44 774.95L807.5 780.47M796.37 780.4L802.33 786.04M791.21 785.77L797.06 791.51M785.94 791.04L791.69 796.89M780.58 796.21L786.22 802.16M775.13 801.28L780.66 807.34M769.58 806.25L775 812.41M763.94 811.12L769.25 817.38M758.22 815.89L763.41 822.24M752.41 820.55L757.48 826.99M746.52 825.1L751.47 831.64M740.54 829.55L745.38 836.17M734.49 833.89L739.2 840.6M728.35 838.11L732.94 844.91M709.85 849.89L714.07 856.93M703.43 853.67L707.52 860.77M696.94 857.32L700.9 864.5M690.39 860.86L694.21 868.11M683.77 864.27L687.46 871.59M677.09 867.57L680.65 874.95M657.8 876.25L660.98 883.81M650.91 879.07L653.94 886.68M643.96 881.76L646.86 889.43M636.97 884.32L639.72 892.05M629.93 886.76L632.54 894.53M622.85 889.07L625.32 896.88M601.91 895.07L603.95 903.01M594.68 896.86L596.58 904.84M587.42 898.53L589.17 906.53M580.13 900.05L581.74 908.09M572.81 901.45L574.27 909.52M565.47 902.71L566.79 910.81M558.11 903.84L559.28 911.96M550.73 904.83L551.75 912.97M543.33 905.69L544.2 913.85M535.91 906.42L536.64 914.58M528.49 907L529.06 915.18M521.05 907.46L521.48 915.65M513.61 907.77L513.89 915.97M506.17 907.95L506.29 916.15M498.72 908L498.69 916.2M475.83 907.28L475.35 915.47M468.4 906.77L467.77 914.95M460.98 906.13L460.2 914.29M453.57 905.35L452.64 913.5M446.18 904.43L445.1 912.56M438.81 903.38L437.58 911.49M431.45 902.2L430.08 910.28M424.12 900.88L422.6 908.94M416.82 899.43L415.14 907.46M409.54 897.85L407.72 905.84M402.29 896.13L400.33 904.09M395.08 894.28L392.97 902.2M387.9 892.3L385.64 900.18M380.75 890.18L378.36 898.03M373.65 887.94L371.11 895.74M366.59 885.57L363.91 893.32M345.74 877.71L342.64 885.3M338.87 874.83L335.63 882.37M332.05 871.83L328.67 879.3M325.29 868.7L321.78 876.11M307.22 859.59L303.35 866.81M300.69 856.01L296.69 863.16M294.23 852.31L290.09 859.39M287.83 848.49L283.57 855.5M281.5 844.56L277.11 851.49M263.91 832.75L259.16 839.44M248.44 821.22L243.38 827.67M242.62 816.57L237.45 822.94M236.88 811.82L231.59 818.09M231.23 806.97L225.83 813.14M225.67 802.01L220.16 808.08M220.21 796.95L214.58 802.92M214.83 791.79L209.1 797.66M209.55 786.54L203.72 792.3M204.37 781.19L198.43 786.84M199.29 775.75L193.24 781.29M194.3 770.21L188.16 775.64M189.42 764.58L183.18 769.9M184.64 758.87L178.31 764.07M179.97 753.07L173.54 758.16M175.4 747.19L168.88 752.15M170.95 741.22L164.33 746.07M166.6 735.17L159.9 739.9M162.36 729.05L155.57 733.65M158.23 722.85L151.37 727.32M154.22 716.57L147.27 720.92M150.33 710.22L143.3 714.45M146.55 703.8L139.44 707.9M142.89 697.32L135.71 701.28M139.34 690.76L132.1 694.6M135.92 684.15L128.6 687.85M132.62 677.47L125.24 681.04M124.31 659.12L116.76 662.31M121.46 652.23L113.86 655.29M118.75 645.3L111.09 648.22M116.16 638.31L108.44 641.09M113.7 631.28L105.93 633.92M111.37 624.21L103.56 626.7M109.16 617.09L101.31 619.45M107.09 609.94L99.19 612.15M105.15 602.75L97.21 604.81M103.34 595.52L95.37 597.44M101.66 588.27L93.66 590.04M100.12 580.98L92.08 582.61M98.71 573.67L90.64 575.15M97.43 566.33L89.34 567.66M96.28 558.97L88.17 560.15M95.27 551.59L87.14 552.62M94.4 544.19L86.25 545.08M93.66 536.78L85.49 537.52M93.06 529.36L84.88 529.95M92.59 521.92L84.4 522.36M92.26 514.48L84.06 514.77M92.06 507.04L83.86 507.18M92 499.59L83.8 499.58M92.08 492.14L83.88 491.98M93.55 464.47L85.38 463.75M94.27 457.05L86.11 456.19M95.12 449.66L86.98 448.64M96.1 442.27L87.99 441.11M97.23 434.91L89.13 433.6M98.48 427.57L90.41 426.11M99.87 420.25L91.83 418.65M104.76 398.77L96.81 396.73M106.67 391.57L98.77 389.39M108.72 384.41L100.85 382.09M110.89 377.28L103.07 374.82M113.2 370.2L105.42 367.59M115.63 363.16L107.91 360.41M118.19 356.17L110.52 353.28M120.88 349.22L113.26 346.19M123.7 342.33L116.14 339.16M126.64 335.48L119.14 332.18M129.7 328.7L122.26 325.25M146.83 295.72L139.73 291.61M150.61 289.3L143.59 285.07M154.52 282.96L147.57 278.6M158.54 276.69L151.68 272.2M162.67 270.49L155.89 265.88M166.92 264.37L160.22 259.64M171.27 258.33L164.67 253.48M175.74 252.37L169.22 247.39M192.15 232.24L185.97 226.86M197.09 226.67L191 221.17M202.13 221.18L196.15 215.58M207.27 215.79L201.39 210.08M212.51 210.5L206.73 204.68M217.84 205.3L212.17 199.37M223.27 200.19L217.71 194.17M228.79 195.19L223.34 189.07M234.4 190.29L229.06 184.07M251.32 176.55L246.32 170.05M257.27 172.06L252.39 165.47M263.29 167.68L258.54 161M269.4 163.42L264.76 156.65M275.58 159.26L271.07 152.42M294.62 147.46L290.49 140.38M301.09 143.77L297.09 136.61M307.63 140.2L303.76 132.97M314.23 136.75L310.49 129.45M320.89 133.42L317.29 126.05M327.61 130.21L324.15 122.78M334.39 127.12L331.06 119.63M341.22 124.16L338.03 116.61M348.11 121.33L345.06 113.72M355.05 118.62L352.14 110.95M362.04 116.03L359.26 108.32M369.07 113.58L366.44 105.81M376.14 111.25L373.66 103.44M383.26 109.06L380.92 101.2M390.42 106.99L388.22 99.09M397.61 105.06L395.55 97.12M404.84 103.25L402.92 95.28M412.1 101.58L410.33 93.57M419.38 100.04L417.76 92.01M426.7 98.64L425.23 90.57M434.04 97.37L432.71 89.28M441.4 96.23L440.22 88.12M448.78 95.23L447.75 87.09M456.18 94.36L455.3 86.21M463.59 93.63L462.86 85.46M471.01 93.03L470.43 84.85M478.45 92.57L478.01 84.38M485.89 92.24L485.61 84.05" stroke="#000" stroke-width="1.8" fill="none"/>
<g class="lb" font-family="'Liberation Sans', Arial, Helvetica, sans-serif" font-size="16.3" fill="#000" stroke="#fff" stroke-width="0.35">
<text transform="translate(524.13 79.69) rotate(-86.71) scale(1.06 1)" text-anchor="start" y="3.9">100</text>
<text transform="translate(531.8 80.2) rotate(-85.67) scale(1.06 1)" text-anchor="start" y="3.9">200</text>
<text transform="translate(539.46 80.85) rotate(-84.62) scale(1.06 1)" text-anchor="start" y="3.9">300</text>
<text transform="translate(547.1 81.64) rotate(-83.58) scale(1.06 1)" text-anchor="start" y="3.9">400</text>
<text transform="translate(554.73 82.57) rotate(-82.53) scale(1.06 1)" text-anchor="start" y="3.9">500</text>
<text transform="translate(562.34 83.64) rotate(-81.48) scale(1.06 1)" text-anchor="start" y="3.9">600</text>
<text transform="translate(587.14 88.12) rotate(-78.05) scale(1.06 1)" text-anchor="start" y="3.9">100</text>
<text transform="translate(594.65 89.78) rotate(-77.01) scale(1.06 1)" text-anchor="start" y="3.9">200</text>
<text transform="translate(602.12 91.57) rotate(-75.96) scale(1.06 1)" text-anchor="start" y="3.9">300</text>
<text transform="translate(609.56 93.51) rotate(-74.92) scale(1.06 1)" text-anchor="start" y="3.9">400</text>
<text transform="translate(616.96 95.57) rotate(-73.87) scale(1.06 1)" text-anchor="start" y="3.9">500</text>
<text transform="translate(624.32 97.78) rotate(-72.82) scale(1.06 1)" text-anchor="start" y="3.9">600</text>
<text transform="translate(631.65 100.11) rotate(-71.78) scale(1.06 1)" text-anchor="start" y="3.9">700</text>
<text transform="translate(638.92 102.58) rotate(-70.73) scale(1.06 1)" text-anchor="start" y="3.9">800</text>
<text transform="translate(646.16 105.18) rotate(-69.69) scale(1.06 1)" text-anchor="start" y="3.9">900</text>
<text transform="translate(653.34 107.92) rotate(-68.64) scale(1.06 1)" text-anchor="start" y="3.9">1000</text>
<text transform="translate(660.47 110.78) rotate(-67.59) scale(1.06 1)" text-anchor="start" y="3.9">1100</text>
<text transform="translate(667.55 113.78) rotate(-66.55) scale(1.06 1)" text-anchor="start" y="3.9">1200</text>
<text transform="translate(674.57 116.9) rotate(-65.5) scale(1.06 1)" text-anchor="start" y="3.9">1300</text>
<text transform="translate(681.54 120.15) rotate(-64.46) scale(1.06 1)" text-anchor="start" y="3.9">1400</text>
<text transform="translate(688.44 123.53) rotate(-63.41) scale(1.06 1)" text-anchor="start" y="3.9">1500</text>
<text transform="translate(695.28 127.03) rotate(-62.36) scale(1.06 1)" text-anchor="start" y="3.9">1600</text>
<text transform="translate(702.06 130.66) rotate(-61.32) scale(1.06 1)" text-anchor="start" y="3.9">1700</text>
<text transform="translate(708.77 134.41) rotate(-60.27) scale(1.06 1)" text-anchor="start" y="3.9">1800</text>
<text transform="translate(730.19 147.51) rotate(-56.85) scale(1.06 1)" text-anchor="start" y="3.9">100</text>
<text transform="translate(736.59 151.77) rotate(-55.81) scale(1.06 1)" text-anchor="start" y="3.9">200</text>
<text transform="translate(754.22 164.42) rotate(-52.85) scale(1.06 1)" text-anchor="start" y="3.9">100</text>
<text transform="translate(760.3 169.12) rotate(-51.81) scale(1.06 1)" text-anchor="start" y="3.9">200</text>
<text transform="translate(766.3 173.92) rotate(-50.76) scale(1.06 1)" text-anchor="start" y="3.9">300</text>
<text transform="translate(772.21 178.84) rotate(-49.72) scale(1.06 1)" text-anchor="start" y="3.9">400</text>
<text transform="translate(778.03 183.86) rotate(-48.67) scale(1.06 1)" text-anchor="start" y="3.9">500</text>
<text transform="translate(783.75 188.99) rotate(-47.62) scale(1.06 1)" text-anchor="start" y="3.9">600</text>
<text transform="translate(789.38 194.22) rotate(-46.58) scale(1.06 1)" text-anchor="start" y="3.9">700</text>
<text transform="translate(794.92 199.56) rotate(-45.53) scale(1.06 1)" text-anchor="start" y="3.9">800</text>
<text transform="translate(800.35 204.99) rotate(-44.49) scale(1.06 1)" text-anchor="start" y="3.9">900</text>
<text transform="translate(805.69 210.52) rotate(-43.44) scale(1.06 1)" text-anchor="start" y="3.9">1000</text>
<text transform="translate(810.92 216.15) rotate(-42.39) scale(1.06 1)" text-anchor="start" y="3.9">1100</text>
<text transform="translate(816.05 221.87) rotate(-41.35) scale(1.06 1)" text-anchor="start" y="3.9">1200</text>
<text transform="translate(821.07 227.69) rotate(-40.3) scale(1.06 1)" text-anchor="start" y="3.9">1300</text>
<text transform="translate(825.99 233.6) rotate(-39.26) scale(1.06 1)" text-anchor="start" y="3.9">1400</text>
<text transform="translate(830.8 239.59) rotate(-38.21) scale(1.06 1)" text-anchor="start" y="3.9">1500</text>
<text transform="translate(835.5 245.67) rotate(-37.16) scale(1.06 1)" text-anchor="start" y="3.9">1600</text>
<text transform="translate(840.09 251.84) rotate(-36.12) scale(1.06 1)" text-anchor="start" y="3.9">1700</text>
<text transform="translate(844.56 258.09) rotate(-35.07) scale(1.06 1)" text-anchor="start" y="3.9">1800</text>
<text transform="translate(858.37 279.06) rotate(-31.65) scale(1.06 1)" text-anchor="start" y="3.9">100</text>
<text transform="translate(862.34 285.64) rotate(-30.61) scale(1.06 1)" text-anchor="start" y="3.9">200</text>
<text transform="translate(866.2 292.29) rotate(-29.56) scale(1.06 1)" text-anchor="start" y="3.9">300</text>
<text transform="translate(869.93 299.01) rotate(-28.52) scale(1.06 1)" text-anchor="start" y="3.9">400</text>
<text transform="translate(873.53 305.8) rotate(-27.47) scale(1.06 1)" text-anchor="start" y="3.9">500</text>
<text transform="translate(884.44 328.4) rotate(-24.05) scale(1.06 1)" text-anchor="start" y="3.9">100</text>
<text transform="translate(887.51 335.45) rotate(-23.01) scale(1.06 1)" text-anchor="start" y="3.9">200</text>
<text transform="translate(890.45 342.55) rotate(-21.96) scale(1.06 1)" text-anchor="start" y="3.9">300</text>
<text transform="translate(893.26 349.7) rotate(-20.92) scale(1.06 1)" text-anchor="start" y="3.9">400</text>
<text transform="translate(895.94 356.91) rotate(-19.87) scale(1.06 1)" text-anchor="start" y="3.9">500</text>
<text transform="translate(898.48 364.16) rotate(-18.82) scale(1.06 1)" text-anchor="start" y="3.9">600</text>
<text transform="translate(900.9 371.46) rotate(-17.78) scale(1.06 1)" text-anchor="start" y="3.9">700</text>
<text transform="translate(903.18 378.8) rotate(-16.73) scale(1.06 1)" text-anchor="start" y="3.9">800</text>
<text transform="translate(905.32 386.18) rotate(-15.69) scale(1.06 1)" text-anchor="start" y="3.9">900</text>
<text transform="translate(910.15 405.05) rotate(-13.03) scale(1.06 1)" text-anchor="start" y="3.9">100</text>
<text transform="translate(911.82 412.56) rotate(-11.99) scale(1.06 1)" text-anchor="start" y="3.9">200</text>
<text transform="translate(913.35 420.09) rotate(-10.94) scale(1.06 1)" text-anchor="start" y="3.9">300</text>
<text transform="translate(914.74 427.65) rotate(-9.9) scale(1.06 1)" text-anchor="start" y="3.9">400</text>
<text transform="translate(915.99 435.23) rotate(-8.85) scale(1.06 1)" text-anchor="start" y="3.9">500</text>
<text transform="translate(917.1 442.83) rotate(-7.8) scale(1.06 1)" text-anchor="start" y="3.9">600</text>
<text transform="translate(918.07 450.46) rotate(-6.76) scale(1.06 1)" text-anchor="start" y="3.9">700</text>
<text transform="translate(918.91 458.1) rotate(-5.71) scale(1.06 1)" text-anchor="start" y="3.9">800</text>
<text transform="translate(919.6 465.75) rotate(-4.67) scale(1.06 1)" text-anchor="start" y="3.9">900</text>
<text transform="translate(920.92 492.04) rotate(-1.08) scale(1.06 1)" text-anchor="start" y="3.9">100</text>
<text transform="translate(921 499.72) rotate(-0.04) scale(1.06 1)" text-anchor="start" y="3.9">200</text>
<text transform="translate(920.93 507.41) rotate(1.01) scale(1.06 1)" text-anchor="start" y="3.9">300</text>
<text transform="translate(920.73 515.09) rotate(2.05) scale(1.06 1)" text-anchor="start" y="3.9">400</text>
<text transform="translate(920.38 522.77) rotate(3.1) scale(1.06 1)" text-anchor="start" y="3.9">500</text>
<text transform="translate(919.9 530.44) rotate(4.15) scale(1.06 1)" text-anchor="start" y="3.9">600</text>
<text transform="translate(919.27 538.1) rotate(5.19) scale(1.06 1)" text-anchor="start" y="3.9">700</text>
<text transform="translate(918.51 545.75) rotate(6.24) scale(1.06 1)" text-anchor="start" y="3.9">800</text>
<text transform="translate(917.6 553.38) rotate(7.28) scale(1.06 1)" text-anchor="start" y="3.9">900</text>
<text transform="translate(916.56 560.99) rotate(8.33) scale(1.06 1)" text-anchor="start" y="3.9">1000</text>
<text transform="translate(915.38 568.59) rotate(9.38) scale(1.06 1)" text-anchor="start" y="3.9">1100</text>
<text transform="translate(914.05 576.16) rotate(10.42) scale(1.06 1)" text-anchor="start" y="3.9">1200</text>
<text transform="translate(909.55 597.54) rotate(13.4) scale(1.06 1)" text-anchor="start" y="3.9">100</text>
<text transform="translate(907.7 605) rotate(14.44) scale(1.06 1)" text-anchor="start" y="3.9">200</text>
<text transform="translate(905.71 612.42) rotate(15.49) scale(1.06 1)" text-anchor="start" y="3.9">300</text>
<text transform="translate(903.59 619.81) rotate(16.53) scale(1.06 1)" text-anchor="start" y="3.9">400</text>
<text transform="translate(901.34 627.16) rotate(17.58) scale(1.06 1)" text-anchor="start" y="3.9">500</text>
<text transform="translate(898.95 634.46) rotate(18.63) scale(1.06 1)" text-anchor="start" y="3.9">600</text>
<text transform="translate(896.43 641.72) rotate(19.67) scale(1.06 1)" text-anchor="start" y="3.9">700</text>
<text transform="translate(893.78 648.94) rotate(20.72) scale(1.06 1)" text-anchor="start" y="3.9">800</text>
<text transform="translate(890.99 656.1) rotate(21.76) scale(1.06 1)" text-anchor="start" y="3.9">900</text>
<text transform="translate(888.08 663.21) rotate(22.81) scale(1.06 1)" text-anchor="start" y="3.9">1000</text>
<text transform="translate(885.03 670.27) rotate(23.86) scale(1.06 1)" text-anchor="start" y="3.9">1100</text>
<text transform="translate(881.86 677.27) rotate(24.9) scale(1.06 1)" text-anchor="start" y="3.9">1200</text>
<text transform="translate(878.56 684.21) rotate(25.95) scale(1.06 1)" text-anchor="start" y="3.9">1300</text>
<text transform="translate(875.13 691.09) rotate(26.99) scale(1.06 1)" text-anchor="start" y="3.9">1400</text>
<text transform="translate(871.58 697.91) rotate(28.04) scale(1.06 1)" text-anchor="start" y="3.9">1500</text>
<text transform="translate(867.91 704.66) rotate(29.09) scale(1.06 1)" text-anchor="start" y="3.9">1600</text>
<text transform="translate(864.11 711.34) rotate(30.13) scale(1.06 1)" text-anchor="start" y="3.9">1700</text>
<text transform="translate(860.19 717.95) rotate(31.18) scale(1.06 1)" text-anchor="start" y="3.9">1800</text>
<text transform="translate(856.15 724.49) rotate(32.22) scale(1.06 1)" text-anchor="start" y="3.9">1900</text>
<text transform="translate(844.67 741.75) rotate(35.05) scale(1.06 1)" text-anchor="start" y="3.9">100</text>
<text transform="translate(840.2 748) rotate(36.09) scale(1.06 1)" text-anchor="start" y="3.9">200</text>
<text transform="translate(835.61 754.17) rotate(37.14) scale(1.06 1)" text-anchor="start" y="3.9">300</text>
<text transform="translate(830.92 760.26) rotate(38.18) scale(1.06 1)" text-anchor="start" y="3.9">400</text>
<text transform="translate(826.11 766.26) rotate(39.23) scale(1.06 1)" text-anchor="start" y="3.9">500</text>
<text transform="translate(821.2 772.16) rotate(40.28) scale(1.06 1)" text-anchor="start" y="3.9">600</text>
<text transform="translate(816.18 777.98) rotate(41.32) scale(1.06 1)" text-anchor="start" y="3.9">700</text>
<text transform="translate(811.05 783.71) rotate(42.37) scale(1.06 1)" text-anchor="start" y="3.9">800</text>
<text transform="translate(805.82 789.34) rotate(43.41) scale(1.06 1)" text-anchor="start" y="3.9">900</text>
<text transform="translate(800.48 794.87) rotate(44.46) scale(1.06 1)" text-anchor="start" y="3.9">1000</text>
<text transform="translate(795.05 800.31) rotate(45.51) scale(1.06 1)" text-anchor="start" y="3.9">1100</text>
<text transform="translate(789.52 805.65) rotate(46.55) scale(1.06 1)" text-anchor="start" y="3.9">1200</text>
<text transform="translate(783.89 810.88) rotate(47.6) scale(1.06 1)" text-anchor="start" y="3.9">1300</text>
<text transform="translate(778.17 816.01) rotate(48.64) scale(1.06 1)" text-anchor="start" y="3.9">1400</text>
<text transform="translate(772.35 821.04) rotate(49.69) scale(1.06 1)" text-anchor="start" y="3.9">1500</text>
<text transform="translate(766.45 825.95) rotate(50.74) scale(1.06 1)" text-anchor="start" y="3.9">1600</text>
<text transform="translate(760.45 830.76) rotate(51.78) scale(1.06 1)" text-anchor="start" y="3.9">1700</text>
<text transform="translate(754.37 835.46) rotate(52.83) scale(1.06 1)" text-anchor="start" y="3.9">1800</text>
<text transform="translate(748.21 840.05) rotate(53.87) scale(1.06 1)" text-anchor="start" y="3.9">1900</text>
<text transform="translate(741.96 844.53) rotate(54.92) scale(1.06 1)" text-anchor="start" y="3.9">2000</text>
<text transform="translate(735.63 848.89) rotate(55.97) scale(1.06 1)" text-anchor="start" y="3.9">2100</text>
<text transform="translate(716.54 861.04) rotate(59.05) scale(1.06 1)" text-anchor="start" y="3.9">100</text>
<text transform="translate(709.91 864.93) rotate(60.09) scale(1.06 1)" text-anchor="start" y="3.9">200</text>
<text transform="translate(703.22 868.71) rotate(61.14) scale(1.06 1)" text-anchor="start" y="3.9">300</text>
<text transform="translate(696.45 872.35) rotate(62.18) scale(1.06 1)" text-anchor="start" y="3.9">400</text>
<text transform="translate(689.62 875.88) rotate(63.23) scale(1.06 1)" text-anchor="start" y="3.9">500</text>
<text transform="translate(682.73 879.28) rotate(64.28) scale(1.06 1)" text-anchor="start" y="3.9">600</text>
<text transform="translate(662.83 888.24) rotate(67.25) scale(1.06 1)" text-anchor="start" y="3.9">100</text>
<text transform="translate(655.72 891.14) rotate(68.29) scale(1.06 1)" text-anchor="start" y="3.9">200</text>
<text transform="translate(648.55 893.92) rotate(69.34) scale(1.06 1)" text-anchor="start" y="3.9">300</text>
<text transform="translate(641.34 896.57) rotate(70.38) scale(1.06 1)" text-anchor="start" y="3.9">400</text>
<text transform="translate(634.07 899.08) rotate(71.43) scale(1.06 1)" text-anchor="start" y="3.9">500</text>
<text transform="translate(626.77 901.46) rotate(72.48) scale(1.06 1)" text-anchor="start" y="3.9">600</text>
<text transform="translate(605.15 907.66) rotate(75.54) scale(1.06 1)" text-anchor="start" y="3.9">100</text>
<text transform="translate(597.69 909.51) rotate(76.58) scale(1.06 1)" text-anchor="start" y="3.9">200</text>
<text transform="translate(590.2 911.22) rotate(77.63) scale(1.06 1)" text-anchor="start" y="3.9">300</text>
<text transform="translate(582.68 912.8) rotate(78.67) scale(1.06 1)" text-anchor="start" y="3.9">400</text>
<text transform="translate(575.13 914.24) rotate(79.72) scale(1.06 1)" text-anchor="start" y="3.9">500</text>
<text transform="translate(567.56 915.54) rotate(80.77) scale(1.06 1)" text-anchor="start" y="3.9">600</text>
<text transform="translate(559.96 916.71) rotate(81.81) scale(1.06 1)" text-anchor="start" y="3.9">700</text>
<text transform="translate(552.34 917.73) rotate(82.86) scale(1.06 1)" text-anchor="start" y="3.9">800</text>
<text transform="translate(544.71 918.62) rotate(83.9) scale(1.06 1)" text-anchor="start" y="3.9">900</text>
<text transform="translate(537.06 919.37) rotate(84.95) scale(1.06 1)" text-anchor="start" y="3.9">1000</text>
<text transform="translate(529.4 919.97) rotate(86) scale(1.06 1)" text-anchor="start" y="3.9">1100</text>
<text transform="translate(521.73 920.44) rotate(87.04) scale(1.06 1)" text-anchor="start" y="3.9">1200</text>
<text transform="translate(514.05 920.77) rotate(88.09) scale(1.06 1)" text-anchor="start" y="3.9">1300</text>
<text transform="translate(506.36 920.95) rotate(89.13) scale(1.06 1)" text-anchor="start" y="3.9">1400</text>
<text transform="translate(498.68 921) rotate(270.18) scale(1.06 1)" text-anchor="end" y="3.9">1500</text>
<text transform="translate(475.06 920.26) rotate(273.4) scale(1.06 1)" text-anchor="end" y="3.9">100</text>
<text transform="translate(467.39 919.74) rotate(274.44) scale(1.06 1)" text-anchor="end" y="3.9">200</text>
<text transform="translate(459.74 919.07) rotate(275.49) scale(1.06 1)" text-anchor="end" y="3.9">300</text>
<text transform="translate(452.09 918.27) rotate(276.53) scale(1.06 1)" text-anchor="end" y="3.9">400</text>
<text transform="translate(444.47 917.32) rotate(277.58) scale(1.06 1)" text-anchor="end" y="3.9">500</text>
<text transform="translate(436.86 916.24) rotate(278.63) scale(1.06 1)" text-anchor="end" y="3.9">600</text>
<text transform="translate(429.27 915.02) rotate(279.67) scale(1.06 1)" text-anchor="end" y="3.9">700</text>
<text transform="translate(421.7 913.66) rotate(280.72) scale(1.06 1)" text-anchor="end" y="3.9">800</text>
<text transform="translate(414.17 912.16) rotate(281.76) scale(1.06 1)" text-anchor="end" y="3.9">900</text>
<text transform="translate(406.66 910.52) rotate(282.81) scale(1.06 1)" text-anchor="end" y="3.9">1000</text>
<text transform="translate(399.18 908.75) rotate(283.86) scale(1.06 1)" text-anchor="end" y="3.9">1100</text>
<text transform="translate(391.73 906.84) rotate(284.9) scale(1.06 1)" text-anchor="end" y="3.9">1200</text>
<text transform="translate(384.32 904.8) rotate(285.95) scale(1.06 1)" text-anchor="end" y="3.9">1300</text>
<text transform="translate(376.95 902.62) rotate(286.99) scale(1.06 1)" text-anchor="end" y="3.9">1400</text>
<text transform="translate(369.62 900.3) rotate(288.04) scale(1.06 1)" text-anchor="end" y="3.9">1500</text>
<text transform="translate(362.34 897.86) rotate(289.09) scale(1.06 1)" text-anchor="end" y="3.9">1600</text>
<text transform="translate(340.82 889.75) rotate(292.22) scale(1.06 1)" text-anchor="end" y="3.9">100</text>
<text transform="translate(333.73 886.78) rotate(293.26) scale(1.06 1)" text-anchor="end" y="3.9">200</text>
<text transform="translate(326.7 883.68) rotate(294.31) scale(1.06 1)" text-anchor="end" y="3.9">300</text>
<text transform="translate(319.72 880.45) rotate(295.35) scale(1.06 1)" text-anchor="end" y="3.9">400</text>
<text transform="translate(301.08 871.04) rotate(298.2) scale(1.06 1)" text-anchor="end" y="3.9">100</text>
<text transform="translate(294.34 867.35) rotate(299.24) scale(1.06 1)" text-anchor="end" y="3.9">200</text>
<text transform="translate(287.67 863.53) rotate(300.29) scale(1.06 1)" text-anchor="end" y="3.9">300</text>
<text transform="translate(281.07 859.6) rotate(301.33) scale(1.06 1)" text-anchor="end" y="3.9">400</text>
<text transform="translate(274.54 855.54) rotate(302.38) scale(1.06 1)" text-anchor="end" y="3.9">500</text>
<text transform="translate(256.39 843.36) rotate(305.36) scale(1.06 1)" text-anchor="end" y="3.9">100</text>
<text transform="translate(240.42 831.45) rotate(308.07) scale(1.06 1)" text-anchor="end" y="3.9">100</text>
<text transform="translate(234.42 826.66) rotate(309.11) scale(1.06 1)" text-anchor="end" y="3.9">200</text>
<text transform="translate(228.5 821.76) rotate(310.16) scale(1.06 1)" text-anchor="end" y="3.9">300</text>
<text transform="translate(222.67 816.75) rotate(311.2) scale(1.06 1)" text-anchor="end" y="3.9">400</text>
<text transform="translate(216.93 811.63) rotate(312.25) scale(1.06 1)" text-anchor="end" y="3.9">500</text>
<text transform="translate(211.29 806.41) rotate(313.3) scale(1.06 1)" text-anchor="end" y="3.9">600</text>
<text transform="translate(205.75 801.09) rotate(314.34) scale(1.06 1)" text-anchor="end" y="3.9">700</text>
<text transform="translate(200.3 795.67) rotate(315.39) scale(1.06 1)" text-anchor="end" y="3.9">800</text>
<text transform="translate(194.95 790.15) rotate(316.43) scale(1.06 1)" text-anchor="end" y="3.9">900</text>
<text transform="translate(189.71 784.53) rotate(317.48) scale(1.06 1)" text-anchor="end" y="3.9">1000</text>
<text transform="translate(184.56 778.82) rotate(318.53) scale(1.06 1)" text-anchor="end" y="3.9">1100</text>
<text transform="translate(179.53 773.02) rotate(319.57) scale(1.06 1)" text-anchor="end" y="3.9">1200</text>
<text transform="translate(174.6 767.12) rotate(320.62) scale(1.06 1)" text-anchor="end" y="3.9">1300</text>
<text transform="translate(169.77 761.13) rotate(321.66) scale(1.06 1)" text-anchor="end" y="3.9">1400</text>
<text transform="translate(165.06 755.06) rotate(322.71) scale(1.06 1)" text-anchor="end" y="3.9">1500</text>
<text transform="translate(160.46 748.91) rotate(323.76) scale(1.06 1)" text-anchor="end" y="3.9">1600</text>
<text transform="translate(155.97 742.67) rotate(324.8) scale(1.06 1)" text-anchor="end" y="3.9">1700</text>
<text transform="translate(151.6 736.35) rotate(325.85) scale(1.06 1)" text-anchor="end" y="3.9">1800</text>
<text transform="translate(147.34 729.95) rotate(326.89) scale(1.06 1)" text-anchor="end" y="3.9">1900</text>
<text transform="translate(143.21 723.47) rotate(327.94) scale(1.06 1)" text-anchor="end" y="3.9">2000</text>
<text transform="translate(139.19 716.92) rotate(328.99) scale(1.06 1)" text-anchor="end" y="3.9">2100</text>
<text transform="translate(135.29 710.3) rotate(330.03) scale(1.06 1)" text-anchor="end" y="3.9">2200</text>
<text transform="translate(131.51 703.6) rotate(331.08) scale(1.06 1)" text-anchor="end" y="3.9">2300</text>
<text transform="translate(127.85 696.84) rotate(332.12) scale(1.06 1)" text-anchor="end" y="3.9">2400</text>
<text transform="translate(124.32 690.02) rotate(333.17) scale(1.06 1)" text-anchor="end" y="3.9">2500</text>
<text transform="translate(120.91 683.13) rotate(334.22) scale(1.06 1)" text-anchor="end" y="3.9">2600</text>
<text transform="translate(112.34 664.19) rotate(337.05) scale(1.06 1)" text-anchor="end" y="3.9">100</text>
<text transform="translate(109.4 657.08) rotate(338.09) scale(1.06 1)" text-anchor="end" y="3.9">200</text>
<text transform="translate(106.6 649.93) rotate(339.14) scale(1.06 1)" text-anchor="end" y="3.9">300</text>
<text transform="translate(103.93 642.72) rotate(340.18) scale(1.06 1)" text-anchor="end" y="3.9">400</text>
<text transform="translate(101.39 635.47) rotate(341.23) scale(1.06 1)" text-anchor="end" y="3.9">500</text>
<text transform="translate(98.98 628.17) rotate(342.28) scale(1.06 1)" text-anchor="end" y="3.9">600</text>
<text transform="translate(96.71 620.82) rotate(343.32) scale(1.06 1)" text-anchor="end" y="3.9">700</text>
<text transform="translate(94.57 613.44) rotate(344.37) scale(1.06 1)" text-anchor="end" y="3.9">800</text>
<text transform="translate(92.57 606.02) rotate(345.41) scale(1.06 1)" text-anchor="end" y="3.9">900</text>
<text transform="translate(90.7 598.57) rotate(346.46) scale(1.06 1)" text-anchor="end" y="3.9">1000</text>
<text transform="translate(88.97 591.08) rotate(347.51) scale(1.06 1)" text-anchor="end" y="3.9">1100</text>
<text transform="translate(87.38 583.56) rotate(348.55) scale(1.06 1)" text-anchor="end" y="3.9">1200</text>
<text transform="translate(85.92 576.01) rotate(349.6) scale(1.06 1)" text-anchor="end" y="3.9">1300</text>
<text transform="translate(84.6 568.44) rotate(350.64) scale(1.06 1)" text-anchor="end" y="3.9">1400</text>
<text transform="translate(83.42 560.85) rotate(351.69) scale(1.06 1)" text-anchor="end" y="3.9">1500</text>
<text transform="translate(82.38 553.23) rotate(352.74) scale(1.06 1)" text-anchor="end" y="3.9">1600</text>
<text transform="translate(81.48 545.6) rotate(353.78) scale(1.06 1)" text-anchor="end" y="3.9">1700</text>
<text transform="translate(80.71 537.95) rotate(354.83) scale(1.06 1)" text-anchor="end" y="3.9">1800</text>
<text transform="translate(80.09 530.29) rotate(355.87) scale(1.06 1)" text-anchor="end" y="3.9">1900</text>
<text transform="translate(79.61 522.62) rotate(356.92) scale(1.06 1)" text-anchor="end" y="3.9">2000</text>
<text transform="translate(79.27 514.94) rotate(357.97) scale(1.06 1)" text-anchor="end" y="3.9">2100</text>
<text transform="translate(79.06 507.26) rotate(359.01) scale(1.06 1)" text-anchor="end" y="3.9">2200</text>
<text transform="translate(79 499.57) rotate(360.06) scale(1.06 1)" text-anchor="end" y="3.9">2300</text>
<text transform="translate(79.08 491.89) rotate(361.1) scale(1.06 1)" text-anchor="end" y="3.9">2400</text>
<text transform="translate(80.6 463.34) rotate(365) scale(1.06 1)" text-anchor="end" y="3.9">100</text>
<text transform="translate(81.34 455.69) rotate(366.04) scale(1.06 1)" text-anchor="end" y="3.9">200</text>
<text transform="translate(82.22 448.05) rotate(367.09) scale(1.06 1)" text-anchor="end" y="3.9">300</text>
<text transform="translate(83.24 440.43) rotate(368.13) scale(1.06 1)" text-anchor="end" y="3.9">400</text>
<text transform="translate(84.39 432.84) rotate(369.18) scale(1.06 1)" text-anchor="end" y="3.9">500</text>
<text transform="translate(85.69 425.26) rotate(370.23) scale(1.06 1)" text-anchor="end" y="3.9">600</text>
<text transform="translate(87.12 417.71) rotate(371.27) scale(1.06 1)" text-anchor="end" y="3.9">700</text>
<text transform="translate(92.16 395.54) rotate(374.37) scale(1.06 1)" text-anchor="end" y="3.9">100</text>
<text transform="translate(94.14 388.12) rotate(375.41) scale(1.06 1)" text-anchor="end" y="3.9">200</text>
<text transform="translate(96.25 380.73) rotate(376.46) scale(1.06 1)" text-anchor="end" y="3.9">300</text>
<text transform="translate(98.49 373.37) rotate(377.5) scale(1.06 1)" text-anchor="end" y="3.9">400</text>
<text transform="translate(100.87 366.07) rotate(378.55) scale(1.06 1)" text-anchor="end" y="3.9">500</text>
<text transform="translate(103.38 358.8) rotate(379.6) scale(1.06 1)" text-anchor="end" y="3.9">600</text>
<text transform="translate(106.03 351.59) rotate(380.64) scale(1.06 1)" text-anchor="end" y="3.9">700</text>
<text transform="translate(108.8 344.42) rotate(381.69) scale(1.06 1)" text-anchor="end" y="3.9">800</text>
<text transform="translate(111.71 337.3) rotate(382.73) scale(1.06 1)" text-anchor="end" y="3.9">900</text>
<text transform="translate(114.74 330.24) rotate(383.78) scale(1.06 1)" text-anchor="end" y="3.9">1000</text>
<text transform="translate(117.91 323.24) rotate(384.83) scale(1.06 1)" text-anchor="end" y="3.9">1100</text>
<text transform="translate(135.57 289.21) rotate(390.05) scale(1.06 1)" text-anchor="end" y="3.9">100</text>
<text transform="translate(139.48 282.59) rotate(391.09) scale(1.06 1)" text-anchor="end" y="3.9">200</text>
<text transform="translate(143.51 276.04) rotate(392.14) scale(1.06 1)" text-anchor="end" y="3.9">300</text>
<text transform="translate(147.66 269.57) rotate(393.18) scale(1.06 1)" text-anchor="end" y="3.9">400</text>
<text transform="translate(151.92 263.18) rotate(394.23) scale(1.06 1)" text-anchor="end" y="3.9">500</text>
<text transform="translate(156.3 256.87) rotate(395.28) scale(1.06 1)" text-anchor="end" y="3.9">600</text>
<text transform="translate(160.8 250.63) rotate(396.32) scale(1.06 1)" text-anchor="end" y="3.9">700</text>
<text transform="translate(165.41 244.48) rotate(397.37) scale(1.06 1)" text-anchor="end" y="3.9">800</text>
<text transform="translate(182.34 223.71) rotate(401.02) scale(1.06 1)" text-anchor="end" y="3.9">100</text>
<text transform="translate(187.44 217.96) rotate(402.06) scale(1.06 1)" text-anchor="end" y="3.9">200</text>
<text transform="translate(192.64 212.3) rotate(403.11) scale(1.06 1)" text-anchor="end" y="3.9">300</text>
<text transform="translate(197.95 206.74) rotate(404.15) scale(1.06 1)" text-anchor="end" y="3.9">400</text>
<text transform="translate(203.35 201.27) rotate(405.2) scale(1.06 1)" text-anchor="end" y="3.9">500</text>
<text transform="translate(208.85 195.91) rotate(406.25) scale(1.06 1)" text-anchor="end" y="3.9">600</text>
<text transform="translate(214.45 190.64) rotate(407.29) scale(1.06 1)" text-anchor="end" y="3.9">700</text>
<text transform="translate(220.15 185.48) rotate(408.34) scale(1.06 1)" text-anchor="end" y="3.9">800</text>
<text transform="translate(225.93 180.42) rotate(409.38) scale(1.06 1)" text-anchor="end" y="3.9">900</text>
<text transform="translate(243.4 166.24) rotate(412.45) scale(1.06 1)" text-anchor="end" y="3.9">100</text>
<text transform="translate(249.53 161.61) rotate(413.49) scale(1.06 1)" text-anchor="end" y="3.9">200</text>
<text transform="translate(255.75 157.1) rotate(414.54) scale(1.06 1)" text-anchor="end" y="3.9">300</text>
<text transform="translate(262.05 152.69) rotate(415.58) scale(1.06 1)" text-anchor="end" y="3.9">400</text>
<text transform="translate(268.43 148.41) rotate(416.63) scale(1.06 1)" text-anchor="end" y="3.9">500</text>
<text transform="translate(288.08 136.23) rotate(419.78) scale(1.06 1)" text-anchor="end" y="3.9">100</text>
<text transform="translate(294.75 132.42) rotate(420.82) scale(1.06 1)" text-anchor="end" y="3.9">200</text>
<text transform="translate(301.5 128.74) rotate(421.87) scale(1.06 1)" text-anchor="end" y="3.9">300</text>
<text transform="translate(308.31 125.17) rotate(422.91) scale(1.06 1)" text-anchor="end" y="3.9">400</text>
<text transform="translate(315.18 121.74) rotate(423.96) scale(1.06 1)" text-anchor="end" y="3.9">500</text>
<text transform="translate(322.12 118.43) rotate(425.01) scale(1.06 1)" text-anchor="end" y="3.9">600</text>
<text transform="translate(329.11 115.24) rotate(426.05) scale(1.06 1)" text-anchor="end" y="3.9">700</text>
<text transform="translate(336.17 112.19) rotate(427.1) scale(1.06 1)" text-anchor="end" y="3.9">800</text>
<text transform="translate(343.27 109.26) rotate(428.14) scale(1.06 1)" text-anchor="end" y="3.9">900</text>
<text transform="translate(350.43 106.46) rotate(429.19) scale(1.06 1)" text-anchor="end" y="3.9">1000</text>
<text transform="translate(357.64 103.8) rotate(430.24) scale(1.06 1)" text-anchor="end" y="3.9">1100</text>
<text transform="translate(364.9 101.27) rotate(431.28) scale(1.06 1)" text-anchor="end" y="3.9">1200</text>
<text transform="translate(372.2 98.87) rotate(432.33) scale(1.06 1)" text-anchor="end" y="3.9">1300</text>
<text transform="translate(379.54 96.6) rotate(433.37) scale(1.06 1)" text-anchor="end" y="3.9">1400</text>
<text transform="translate(386.93 94.47) rotate(434.42) scale(1.06 1)" text-anchor="end" y="3.9">1500</text>
<text transform="translate(394.35 92.47) rotate(435.47) scale(1.06 1)" text-anchor="end" y="3.9">1600</text>
<text transform="translate(401.81 90.61) rotate(436.51) scale(1.06 1)" text-anchor="end" y="3.9">1700</text>
<text transform="translate(409.3 88.89) rotate(437.56) scale(1.06 1)" text-anchor="end" y="3.9">1800</text>
<text transform="translate(416.82 87.3) rotate(438.6) scale(1.06 1)" text-anchor="end" y="3.9">1900</text>
<text transform="translate(424.36 85.85) rotate(439.65) scale(1.06 1)" text-anchor="end" y="3.9">2000</text>
<text transform="translate(431.94 84.54) rotate(440.7) scale(1.06 1)" text-anchor="end" y="3.9">2100</text>
<text transform="translate(439.53 83.37) rotate(441.74) scale(1.06 1)" text-anchor="end" y="3.9">2200</text>
<text transform="translate(447.15 82.33) rotate(442.79) scale(1.06 1)" text-anchor="end" y="3.9">2300</text>
<text transform="translate(454.78 81.44) rotate(443.83) scale(1.06 1)" text-anchor="end" y="3.9">2400</text>
<text transform="translate(462.43 80.68) rotate(444.88) scale(1.06 1)" text-anchor="end" y="3.9">2500</text>
<text transform="translate(470.09 80.06) rotate(445.93) scale(1.06 1)" text-anchor="end" y="3.9">2600</text>
<text transform="translate(477.76 79.59) rotate(446.97) scale(1.06 1)" text-anchor="end" y="3.9">2700</text>
<text transform="translate(485.44 79.25) rotate(448.02) scale(1.06 1)" text-anchor="end" y="3.9">2800</text>
</g>
<g font-family="'Liberation Sans', Arial, Helvetica, sans-serif" font-size="10.4" fill="#262626" class="lb">
<text x="468.41 475.35 483.17 489.55 496.37 501.33 506.28 511.24 516.19 521.15 526.1 531.05" y="41.77 41.35 41 40.8 40.71 40.69 40.73 40.83 40.98 41.18 41.43 41.74" rotate="356.49 357.39 358.3 359.16 359.91 0.53 1.14 1.76 2.38 3 3.62 4.24">PRFC01000278</text>
<text x="490.75 497.04 502.59 510.45 518.83 523.78 530.4 537.14 544.09 549.49 552.43 557.36 563.92 570.62 577.35 583.87 590.91 595.73" y="40.78 40.7 40.69 40.8 41.08 41.31 41.7 42.19 42.81 43.37 43.69 44.29 45.16 46.15 47.25 48.41 49.78 50.78" rotate="359.24 359.95 0.79 1.84 2.71 3.33 4.16 5.11 5.87 6.4 6.92 7.53 8.36 9.31 10.06 10.88 11.74 12.39">TcDm25_Chr03_H2_c1</text>
<text x="618.4 624.46 629.8 637.32 645.3 649.99 656.24 662.59 669.09 674.12 676.86 681.43 687.49 693.65 699.81" y="56.21 57.88 59.41 61.69 64.28 65.87 68.08 70.42 72.95 74.98 76.11 78.04 80.7 83.5 86.43" rotate="15.33 16.05 16.88 17.94 18.8 19.42 20.25 21.2 21.96 22.49 23.01 23.63 24.45 25.4 26.15">TcDm25_Chr03_H1</text>
<text x="703.41 709.02 713.95 720.88 728.19 732.48 738.17 743.93 749.81 754.35 756.81 760.9 766.33 771.82 777.28 782.53 788.15 791.97" y="88.18 91.01 93.56 97.28 101.39 103.87 107.27 110.81 114.57 117.55 119.19 121.99 125.79 129.75 133.83 137.87 142.32 145.43" rotate="26.68 27.39 28.23 29.28 30.15 30.77 31.6 32.55 33.31 33.84 34.36 34.97 35.8 36.75 37.5 38.32 39.18 39.83">TcDm25_Chr03_H2_c2</text>
<text x="795.78 800.56 804.74 810.58 816.7 820.27 824.99 829.74 834.55 838.24 840.24 843.55 847.92 852.3 856.63" y="148.6 152.69 156.34 161.6 167.34 170.77 175.43 180.25 185.29 189.28 191.46 195.15 200.13 205.29 210.56" rotate="40.48 41.2 42.03 43.09 43.95 44.57 45.4 46.35 47.11 47.64 48.16 48.78 49.6 50.55 51.3">TcDm25_Chr32_H1</text>
<text x="868.2 871.92 875.15 879.64 884.29 886.98 890.51 894.03 897.57 900.25 901.7 904.08 907.19 910.28 913.3 916.14 919.13 921.12" y="225.42 230.48 234.99 241.45 248.43 252.59 258.2 263.97 269.99 274.71 277.29 281.64 287.49 293.5 299.62 305.61 312.13 316.63" rotate="53.68 54.39 55.23 56.28 57.15 57.77 58.6 59.55 60.31 60.84 61.36 61.97 62.8 63.75 64.5 65.32 66.18 66.83">TcDm25_Chr32_H2_c3</text>
<text x="912.04 914.78 917.14 920.38 923.67 925.56 928.01 930.43 932.81 934.59 935.54 937.09 939.08 941.02 942.88" y="297.06 302.72 307.74 314.91 322.62 327.2 333.36 339.68 346.23 351.36 354.16 358.87 365.19 371.67 378.24" rotate="64.17 64.89 65.72 66.78 67.64 68.26 69.09 70.04 70.8 71.33 71.85 72.47 73.29 74.24 74.99">TcDm25_Chr21_H1</text>
<text x="941.67 943.36 944.78 946.68 948.55 949.59 950.9 952.15 953.32 954.15 954.59 955.27 956.1 956.86 957.5 958.04 958.52 958.78" y="373.95 380 385.37 393 401.17 406.02 412.52 419.16 426.04 431.4 434.33 439.24 445.82 452.54 459.33 465.93 473.09 478" rotate="74.47 75.18 76.02 77.07 77.94 78.55 79.38 80.33 81.09 81.63 82.14 82.76 83.59 84.54 85.28 86.11 86.96 87.61">TcDm25_Chr08_H2_c1</text>
<text x="958.58 959.66 960.56 961.7 962.75 963.31 963.97 964.55 965.03 965.33 965.48 965.67 965.83 965.91 965.88" y="582.31 576.04 570.46 562.56 554.14 549.14 542.45 535.6 528.56 523.07 520.06 515.03 508.32 501.44 494.53" rotate="279.79 279.07 278.24 277.18 276.32 275.7 274.87 273.92 273.16 272.63 272.11 271.49 270.67 269.72 268.97">TcDm25_Chr08_H1</text>
<text x="905.17 908.28 910.97 914.68 918.47 920.66 923.5 926.33 929.12 931.22 932.36 934.21 936.6 938.96 941.22 943.33 945.51 946.95" y="730.01 724.45 719.49 712.42 704.83 700.3 694.21 687.94 681.46 676.38 673.59 668.91 662.63 656.17 649.65 643.27 636.33 631.55" rotate="299.19 298.48 297.64 296.59 295.72 295.11 294.28 293.33 292.57 292.03 291.52 290.9 290.07 289.12 288.38 287.55 286.7 286.05">TcDm25_Chr02_H2_c1</text>
<text x="791.46 796.4 800.74 806.79 813.12 816.83 821.72 826.67 831.66 835.49 837.58 841.03 845.57 850.15 854.66" y="863.49 859.47 855.86 850.65 845 841.6 836.99 832.22 827.22 823.29 821.11 817.45 812.49 807.37 802.14" rotate="320.89 320.17 319.34 318.28 317.42 316.8 315.97 315.02 314.26 313.73 313.21 312.59 311.77 310.82 310.07">TcDm25_Chr02_H1</text>
<text x="670.85 676.75 681.97 689.29 697.01 701.56 707.6 713.73 719.98 724.8 727.44 731.82 737.62 743.51 749.37 755.02 761.07 765.19" y="933.46 931.08 928.91 925.73 922.21 920.05 917.1 914 910.71 908.08 906.62 904.14 900.76 897.21 893.55 889.92 885.89 883.07" rotate="338.1 337.39 336.55 335.5 334.63 334.01 333.18 332.23 331.47 330.94 330.42 329.81 328.98 328.03 327.28 326.46 325.6 324.95">TcDm25_Chr32_H2_c2</text>
<text x="606.72 612.91 618.38 626.09 634.23 639.04 645.44 651.96 658.61 663.76 666.59 671.27 677.51 683.85 690.17 696.29 702.85 707.34" y="953.52 952.02 950.62 948.54 946.15 944.68 942.63 940.44 938.08 936.17 935.11 933.29 930.77 928.11 925.33 922.54 919.43 917.23" rotate="346.37 345.66 344.82 343.77 342.9 342.28 341.45 340.5 339.74 339.21 338.69 338.08 337.25 336.3 335.55 334.73 333.87 333.22">TcDm25_Chr06_H2_c3</text>
<text x="500.95 507.32 512.96 520.94 529.42 534.43 541.13 547.97 554.99 560.44 563.43 568.41 575.05 581.83 588.62 595.21 602.31 607.18" y="965.91 965.85 965.73 965.45 964.98 964.63 964.09 963.44 962.65 961.97 961.57 960.86 959.82 958.67 957.4 956.08 954.53 953.41" rotate="359.49 358.78 357.94 356.89 356.02 355.41 354.58 353.63 352.87 352.33 351.82 351.2 350.37 349.42 348.68 347.85 347 346.35">TcDm25_Chr06_H2_c2</text>
<text x="362.96 369.06 374.48 382.19 390.42 395.32 401.88 408.61 415.54 420.95 423.92 428.89 435.54 442.35 449.21" y="945.3 947.13 948.69 950.78 952.84 954 955.46 956.86 958.19 959.15 959.66 960.45 961.43 962.34 963.13" rotate="16.72 16 15.17 14.11 13.25 12.63 11.8 10.85 10.09 9.56 9.04 8.42 7.6 6.65 5.9">TcDm25_Chr06_H1</text>
<text x="263.23 268.74 273.65 280.66 288.19 292.68 298.72 304.94 311.38 316.42 319.19 323.84 330.08 336.49 342.98 349.33 356.22 360.98" y="901.26 904.46 907.24 911.06 914.98 917.24 920.19 923.12 926.02 928.21 929.39 931.32 933.82 936.28 938.65 940.87 943.17 944.68" rotate="30.15 29.44 28.6 27.55 26.68 26.07 25.24 24.29 23.53 22.99 22.48 21.86 21.03 20.08 19.34 18.51 17.66 17.01">TcDm25_Chr32_H2_c4</text>
<text x="218.91 224.01 228.58 235.1 242.14 246.34 252 257.84 263.91 268.66 271.28 275.68 281.59 287.69 293.86 299.91 306.5 311.05" y="871.56 875.37 878.69 883.29 888.04 890.8 894.42 898.04 901.66 904.41 905.91 908.35 911.55 914.73 917.82 920.75 923.82 925.87" rotate="36.72 36.01 35.17 34.12 33.25 32.63 31.8 30.85 30.09 29.56 29.04 28.43 27.6 26.65 25.9 25.08 24.22 23.57">TcDm25_Chr05_H2_c2</text>
<text x="187.26 192.01 196.27 202.36 208.95 212.89 218.21 223.71 229.44 233.93 236.41 240.57 246.18 251.97 257.85 263.61 269.91 274.26" y="845.35 849.59 853.3 858.46 863.81 866.93 871.04 875.16 879.3 882.46 884.18 887 890.7 894.41 898.04 901.49 905.13 907.57" rotate="41.77 41.06 40.22 39.17 38.3 37.69 36.86 35.91 35.15 34.61 34.1 33.48 32.65 31.7 30.96 30.13 29.28 28.63">TcDm25_Chr04_H2_c2</text>
<text x="104.79 108.2 111.27 115.73 120.6 123.54 127.54 131.71 136.08 139.54 141.45 144.68 149.07 153.62 158.29 162.89 167.95 171.47" y="746.73 752.11 756.85 763.47 770.42 774.5 779.9 785.37 790.92 795.18 797.51 801.37 806.46 811.61 816.71 821.6 826.82 830.36" rotate="57.63 56.92 56.08 55.03 54.16 53.55 52.72 51.77 51.01 50.47 49.96 49.34 48.51 47.56 46.82 45.99 45.14 44.49">TcDm25_Chr30_H2_c1</text>
<text x="35.02 35.48 35.94 36.71 37.7 38.35 39.31 40.37 41.59 42.61 43.19 44.2 45.64 47.21 48.89 50.62 52.59 54.01" y="529.51 535.87 541.49 549.44 557.87 562.85 569.51 576.3 583.25 588.65 591.61 596.54 603.1 609.8 616.5 622.99 629.99 634.77" rotate="85.98 85.27 84.43 83.38 82.51 81.89 81.06 80.11 79.35 78.82 78.3 77.69 76.86 75.91 75.16 74.34 73.48 72.83">TcDm25_Chr30_H1_c1</text>
<text x="40.99 41.26 41.56 42.11 42.86 43.36 44.13 45 46.01 46.87 47.36 48.22 49.47 50.82 52.3" y="483.46 477.18 471.64 463.8 455.44 450.51 443.93 437.22 430.32 424.96 422.04 417.16 410.65 404.02 397.37" rotate="272.46 273.17 274.01 275.06 275.93 276.55 277.37 278.32 279.09 279.62 280.13 280.75 281.58 282.53 283.27">TcDm25_Chr01_H1</text>
<text x="53.52 55.04 56.44 58.54 60.94 62.42 64.48 66.67 69.04 70.95 72.01 73.84 76.35 79.01 81.79" y="392.2 386.1 380.73 373.16 365.12 360.39 354.09 347.69 341.13 336.05 333.29 328.68 322.55 316.33 310.1" rotate="283.97 284.68 285.52 286.57 287.44 288.06 288.88 289.83 290.6 291.13 291.64 292.26 293.09 294.04 294.78">TcDm25_Chr22_H1</text>
<text x="72.23 74.57 76.68 79.79 83.26 85.37 88.26 91.3 94.53 97.12 98.54 100.97 104.3 107.77 111.37" y="332.72 326.88 321.75 314.53 306.89 302.4 296.44 290.4 284.22 279.44 276.85 272.53 266.8 260.99 255.2" rotate="291.75 292.47 293.3 294.36 295.22 295.84 296.67 297.62 298.38 298.91 299.43 300.05 300.87 301.82 302.57">TcDm25_Chr31_H1</text>
<text x="89.56 92.42 95.01 98.77 102.93 105.44 108.88 112.46 116.25 119.27 120.93 123.75 127.59 131.58 135.7 139.78 144.27 147.4" y="293.83 288.23 283.32 276.42 269.13 264.86 259.19 253.46 247.6 243.09 240.64 236.56 231.16 225.7 220.26 215.04 209.45 205.66" rotate="297.07 297.78 298.62 299.67 300.54 301.15 301.98 302.93 303.69 304.23 304.74 305.36 306.19 307.14 307.88 308.71 309.56 310.21">TcDm25_Chr31_H2_c1</text>
<text x="143.55 147.55 151.12 156.29 161.91 165.29 169.86 174.6 179.56 183.48 185.62 189.26 194.17 199.24 204.44" y="210.33 205.48 201.24 195.31 189.09 185.46 180.67 175.83 170.94 167.17 165.14 161.76 157.32 152.85 148.42" rotate="309.49 310.21 311.04 312.1 312.96 313.58 314.41 315.36 316.12 316.65 317.17 317.79 318.61 319.56 320.31">TcDm25_Chr15_H1</text>
<text x="188.87 193.53 197.68 203.64 210.11 213.97 219.18 224.56 230.18 234.59 237.01 241.09 246.59 252.26 258.03 263.69 269.87 274.13" y="162.11 157.89 154.21 149.08 143.73 140.62 136.54 132.44 128.3 125.14 123.43 120.62 116.92 113.23 109.6 106.15 102.51 100.06" rotate="317.76 318.47 319.31 320.36 321.23 321.84 322.67 323.62 324.38 324.92 325.43 326.05 326.88 327.83 328.57 329.4 330.25 330.9">TcDm25_Chr29_H2_c2</text>
<text x="317.93 323.72 328.85 336.17 344.04 348.71 354.98 361.41 368.08 373.29 376.14 380.92 387.33 393.9 400.55 407.02 414.06 418.89" y="78.32 75.87 73.76 70.89 67.98 66.32 64.19 62.09 60.04 58.52 57.71 56.4 54.72 53.11 51.59 50.2 48.8 47.91" rotate="337.04 337.75 338.59 339.64 340.51 341.13 341.96 342.91 343.67 344.2 344.72 345.33 346.16 347.11 347.86 348.68 349.54 350.19">TcDm25_Chr04_H1_c1</text>
</g>
</svg>
</body>
</html>
